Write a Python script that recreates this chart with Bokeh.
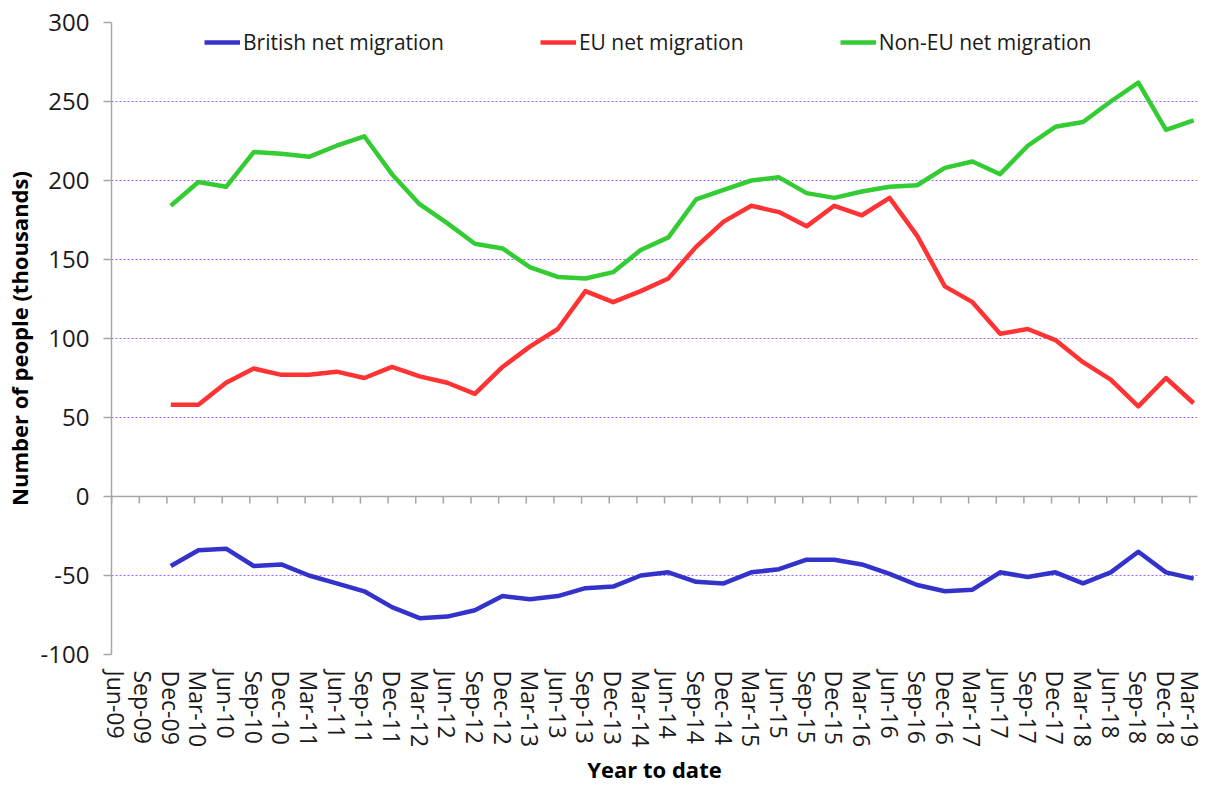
from bokeh.plotting import figure
from bokeh.models import Range1d, FixedTicker, Span, Legend, LegendItem, ColumnDataSource
from bokeh.embed import file_html
from bokeh.resources import INLINE

categories = ["Jun-09", "Sep-09", "Dec-09", "Mar-10", "Jun-10", "Sep-10", "Dec-10", "Mar-11",
              "Jun-11", "Sep-11", "Dec-11", "Mar-12", "Jun-12", "Sep-12", "Dec-12", "Mar-13",
              "Jun-13", "Sep-13", "Dec-13", "Mar-14", "Jun-14", "Sep-14", "Dec-14", "Mar-15",
              "Jun-15", "Sep-15", "Dec-15", "Mar-16", "Jun-16", "Sep-16", "Dec-16", "Mar-17",
              "Jun-17", "Sep-17", "Dec-17", "Mar-18", "Jun-18", "Sep-18", "Dec-18", "Mar-19"]

british = [None, None, -44, -34, -33, -44, -43, -50, -55, -60, -70, -77, -76, -72, -63, -65, -63,
           -58, -57, -50, -48, -54, -55, -48, -46, -40, -40, -43, -49, -56, -60, -59, -48, -51,
           -48, -55, -48, -35, -48, -52]
eu = [None, None, 58, 58, 72, 81, 77, 77, 79, 75, 82, 76, 72, 65, 82, 95, 106, 130, 123, 130,
      138, 158, 174, 184, 180, 171, 184, 178, 189, 165, 133, 123, 103, 106, 99, 85, 74, 57, 75, 59]
non_eu = [None, None, 184, 199, 196, 218, 217, 215, 222, 228, 204, 185, 173, 160, 157, 145, 139,
          138, 142, 156, 164, 188, 194, 200, 202, 192, 189, 193, 196, 197, 208, 212, 204, 222,
          234, 237, 250, 262, 232, 238]

y_ticks = [-100, -50, 0, 50, 100, 150, 200, 250, 300]
y_tick_labels = ["-100", "-50", "0", "50", "100", "150", "200", "250", "300"]

FONT = "Open Sans"
TXT = "#1a1a1a"
AXIS_GREY = "#a6a6a6"

def clean(vals):
    return [float("nan") if v is None else v for v in vals]

xs = list(range(len(categories)))
src = ColumnDataSource(dict(x=xs, british=clean(british), eu=clean(eu), non_eu=clean(non_eu)))

p = figure(frame_width=1086, frame_height=632, output_backend="svg", toolbar_location=None,
           x_range=Range1d(-0.145, len(categories) - 1 + 0.14), y_range=Range1d(-100, 300))
p.min_border_left = 104
p.min_border_right = 8
p.min_border_top = 22
p.min_border_bottom = 120
p.outline_line_color = None
p.background_fill_color = "white"

# grid
p.xgrid.grid_line_color = None
p.ygrid.ticker = FixedTicker(ticks=y_ticks)
p.ygrid.grid_line_color = "#9966ff"
p.ygrid.grid_line_dash = "2 2"
p.ygrid.grid_line_width = 1

# y axis
p.yaxis.ticker = FixedTicker(ticks=y_ticks)
p.yaxis.major_label_overrides = dict(zip(y_ticks, y_tick_labels))
p.yaxis.axis_line_color = AXIS_GREY
p.yaxis.axis_line_width = 1.5
p.yaxis.major_tick_line_color = AXIS_GREY
p.yaxis.major_tick_line_width = 1.5
p.yaxis.major_tick_out = 8
p.yaxis.major_tick_in = 0
p.yaxis.minor_tick_line_color = None
p.yaxis.major_label_text_font = FONT
p.yaxis.major_label_text_font_size = "24px"
p.yaxis.major_label_text_color = TXT
p.yaxis.major_label_standoff = 14
p.yaxis.axis_label = "Number of people (thousands)"
p.yaxis.axis_label_text_font = FONT
p.yaxis.axis_label_text_font_size = "22px"
p.yaxis.axis_label_text_font_style = "bold"
p.yaxis.axis_label_text_color = "black"
p.yaxis.axis_label_standoff = 4

# x axis (labels at the bottom)
p.xaxis.ticker = FixedTicker(ticks=xs)
p.xaxis.major_label_overrides = {i: c for i, c in enumerate(categories)}
p.xaxis.major_label_orientation = "vertical"
p.xaxis.axis_line_color = None
p.xaxis.major_tick_line_color = None
p.xaxis.minor_tick_line_color = None
p.xaxis.major_tick_out = 0
p.xaxis.major_tick_in = 0
p.xaxis.major_label_standoff = 16
p.xaxis.major_label_text_font = FONT
p.xaxis.major_label_text_font_size = "23px"
p.xaxis.major_label_text_color = TXT
p.xaxis.axis_label = "Year to date"
p.xaxis.axis_label_text_font = FONT
p.xaxis.axis_label_text_font_size = "22px"
p.xaxis.axis_label_text_font_style = "bold"
p.xaxis.axis_label_text_color = "black"
p.xaxis.axis_label_standoff = 4

# zero line with tick marks
p.add_layout(Span(location=0, dimension="width", line_color=AXIS_GREY, line_width=1.5))
p.segment(x0=[i - 0.14 for i in xs], x1=[i - 0.14 for i in xs], y0=[0] * len(xs),
          y1=[-4.5] * len(xs), line_color=AXIS_GREY, line_width=1.5)

r_b = p.line("x", "british", source=src, line_color="#3333cc", line_width=4.5, line_join="round")
r_e = p.line("x", "eu", source=src, line_color="#ff3333", line_width=4.5, line_join="round")
r_n = p.line("x", "non_eu", source=src, line_color="#33cc33", line_width=4.5, line_join="round")

legend = Legend(items=[LegendItem(label="British net migration", renderers=[r_b]),
                       LegendItem(label="EU net migration", renderers=[r_e]),
                       LegendItem(label="Non-EU net migration", renderers=[r_n])],
                orientation="horizontal", location=(93, 598))
legend.background_fill_alpha = 0
legend.border_line_color = None
legend.padding = 0
legend.margin = 0
legend.spacing = 96
legend.glyph_width = 36
legend.glyph_height = 20
legend.label_standoff = 3
legend.label_text_font = FONT
legend.label_text_font_size = "21px"
legend.label_text_color = TXT
p.add_layout(legend)

open("out.html", "w").write(file_html(p, INLINE))
